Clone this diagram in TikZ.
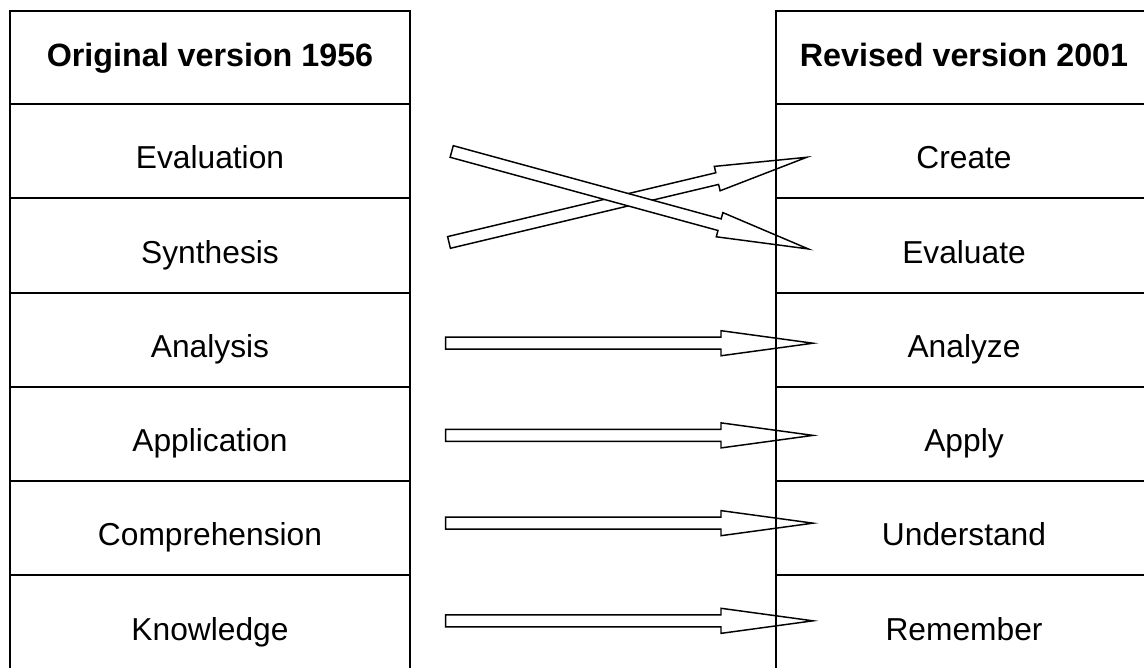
\documentclass[tikz,border=0pt]{standalone}
\usepackage{fontspec}
\setmainfont{Liberation Sans}
\usetikzlibrary{calc,positioning,backgrounds}
\newcommand\blockarrow[2]{%
  \coordinate (ba-h) at ($(#2)!69pt!(#1)$);
  \draw[blockarr] ($(#1)!4.5pt!90:(#2)$) -- ($(ba-h)!4.5pt!90:(#2)$)
    -- ($(ba-h)!9.4pt!90:(#2)$) -- (#2) -- ($(ba-h)!9.4pt!-90:(#2)$)
    -- ($(ba-h)!4.5pt!-90:(#2)$) -- ($(#1)!4.5pt!-90:(#2)$) -- cycle;
}
\begin{document}
\begin{tikzpicture}[x=0.75pt,y=-0.75pt,
  cell/.style={draw,line width=1.5pt,inner sep=0pt,outer sep=0pt,minimum height=70.7pt,
    text height=26.6pt,text depth=0pt,font=\fontsize{23.8}{28}\selectfont},
  lcol/.style={cell,minimum width=300pt},
  rcol/.style={cell,minimum width=282pt},
  hdr/.style={minimum height=69.75pt,text height=14.2pt,font=\fontsize{24.2}{28}\selectfont\bfseries},
  blockarr/.style={draw,line width=1.1pt,fill=white,line join=miter}]
\useasboundingbox (0,0) rectangle (1144,667);
\node[lcol,hdr] (L0) at (210,57.5) {Original version 1956};
\node[lcol,below=0pt of L0] (L1) {Evaluation};
\node[lcol,below=0pt of L1] (L2) {Synthesis};
\node[lcol,below=0pt of L2] (L3) {Analysis};
\node[lcol,below=0pt of L3] (L4) {Application};
\node[lcol,below=0pt of L4] (L5) {Comprehension};
\node[lcol,below=0pt of L5] (L6) {Knowledge};
\node[rcol,hdr] (R0) at (964,57.5) {Revised version 2001};
\node[rcol,below=0pt of R0] (R1) {Create};
\node[rcol,below=0pt of R1] (R2) {Evaluate};
\node[rcol,below=0pt of R2] (R3) {Analyze};
\node[rcol,below=0pt of R3] (R4) {Apply};
\node[rcol,below=0pt of R4] (R5) {Understand};
\node[rcol,below=0pt of R5] (R6) {Remember};
\begin{scope}[on background layer]
\coordinate (s1) at ($(L2.east)+(39,-2.95)$);
\coordinate (s2) at ($(R1.west)+(30.7,6.15)$);
\coordinate (e1) at ($(L1.east)+(41.7,0.35)$);
\coordinate (e2) at ($(R2.west)+(32.3,3.55)$);
\coordinate (a1) at ($(L3.east)+(35.7,3.55)$);
\coordinate (a2) at ($(R3.west)+(37,3.55)$);
\coordinate (p1) at ($(L4.east)+(35.7,1.45)$);
\coordinate (p2) at ($(R4.west)+(37,1.45)$);
\coordinate (c1) at ($(L5.east)+(35.7,-5.05)$);
\coordinate (c2) at ($(R5.west)+(37,-5.05)$);
\coordinate (k1) at ($(L6.east)+(35.7,-1.65)$);
\coordinate (k2) at ($(R6.west)+(37,-1.65)$);
\blockarrow{s1}{s2}
\blockarrow{e1}{e2}
\blockarrow{a1}{a2}
\blockarrow{p1}{p2}
\blockarrow{c1}{c2}
\blockarrow{k1}{k2}
\end{scope}
\end{tikzpicture}
\end{document}
